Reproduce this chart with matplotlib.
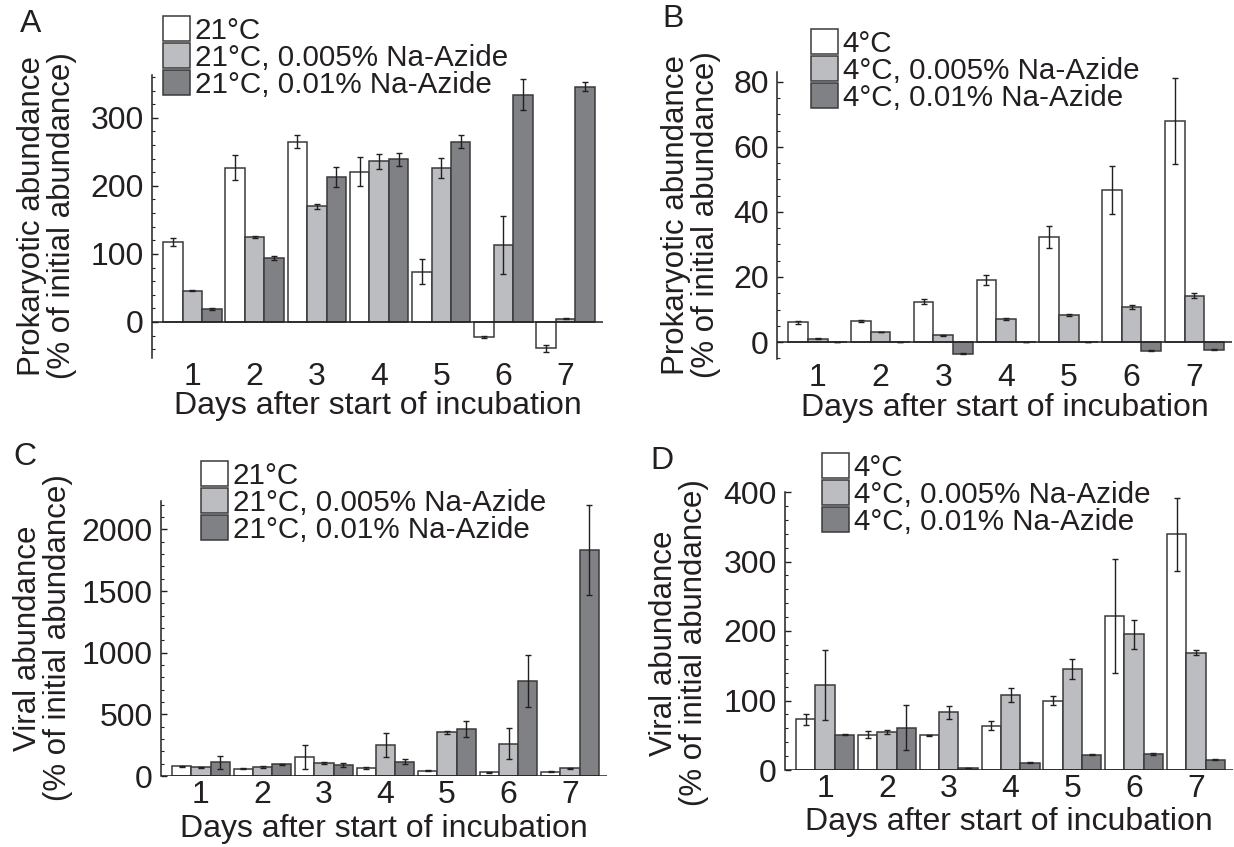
"""Prokaryotic and viral abundance during incubation, with and without Na-azide."""

import matplotlib
matplotlib.use("Agg")
import matplotlib.pyplot as plt
from matplotlib.ticker import MultipleLocator
import numpy as np

plt.rcParams["font.family"] = ["Liberation Sans", "DejaVu Sans"]
plt.rcParams["font.size"] = 23

TXT = "#231f20"
COLORS = ["#ffffff", "#bcbdc1", "#808185"]
EDGE = "#3a3a3c"

days = [1, 2, 3, 4, 5, 6, 7]
labels_21 = ["21°C", "21°C, 0.005% Na-Azide", "21°C, 0.01% Na-Azide"]
labels_4 = ["4°C", "4°C, 0.005% Na-Azide", "4°C, 0.01% Na-Azide"]

# A: prokaryotes, 21 °C
a_ctrl = [117, 227, 265, 221, 74, -22, -39]
a_ctrl_err = [6, 18, 10, 21, 18, 2, 5]
a_low = [46, 125, 170, 236, 226, 113, 5]
a_low_err = [1, 2, 4, 11, 15, 42, 1]
a_high = [19, 94, 213, 239, 265, 334, 346]
a_high_err = [1, 3, 15, 10, 10, 23, 7]

# B: prokaryotes, 4 °C
b_ctrl = [6.1, 6.6, 12.4, 19.0, 32.4, 46.7, 68.0]
b_ctrl_err = [0.5, 0.3, 0.8, 1.5, 3.4, 7.4, 13.2]
b_low = [1.0, 3.1, 2.1, 7.1, 8.3, 10.8, 14.3]
b_low_err = [0.1, 0.1, 0.2, 0.3, 0.4, 0.5, 0.9]
b_high = [0, 0, -3.6, 0, 0, -2.6, -2.3]
b_high_err = [0, 0, 0.2, 0, 0, 0.2, 0.2]

# C: viruses, 21 °C
c_ctrl = [78, 57, 151, 65, 43, 30, 35]
c_ctrl_err = [6, 4, 97, 5, 6, 6, 4]
c_low = [70, 70, 105, 251, 354, 262, 62]
c_low_err = [6, 8, 5, 100, 13, 127, 6]
c_high = [111, 95, 89, 116, 384, 770, 1835]
c_high_err = [55, 6, 15, 20, 65, 212, 365]

# D: viruses, 4 °C
d_ctrl = [73, 51, 50, 64, 100, 221, 339]
d_ctrl_err = [8, 5, 1, 7, 7, 82, 53]
d_low = [122, 55, 83, 108, 145, 195, 169]
d_low_err = [50, 3, 9, 10, 14, 21, 3]
d_high = [51, 61, 3, 10.5, 22, 23, 15]
d_high_err = [1, 32, 0.5, 0.5, 1, 1, 0.5]

W, H = 1234, 847


def px_rect(left, top, right, bottom):
    return [left / W, 1 - bottom / H, (right - left) / W, (bottom - top) / H]


def panel(fig, rect, series, errs, labels, ylim, major, minor,
          ylabel, letter, letter_xy, ylabel_xy, legend_xy, xlabel_pad=-1):
    ax = fig.add_axes(rect)
    x = np.arange(len(days)) + 1
    width = 0.313
    handles = []
    for k, (vals, err, col) in enumerate(zip(series, errs, COLORS)):
        pos = x + (k - 1) * width
        b = ax.bar(pos, vals, width, color=col, edgecolor=EDGE, linewidth=1.1,
                   zorder=2)
        ax.errorbar(pos, vals, yerr=err, fmt="none", ecolor=TXT, elinewidth=1,
                    capsize=2.5, capthick=1, zorder=3)
        handles.append(b)

    ax.axhline(0, color=TXT, linewidth=1.1, zorder=4)
    ax.set_xlim(0.35, 7.6)
    ax.set_ylim(*ylim)
    ax.yaxis.set_major_locator(MultipleLocator(major))
    ax.yaxis.set_minor_locator(MultipleLocator(minor))
    ax.set_yticks([t for t in ax.get_yticks() if t >= 0 and t <= ylim[1]])
    ax.set_xticks(x)
    ax.set_xticklabels([str(d) for d in days])
    ax.tick_params(axis="x", length=0, pad=3, colors=TXT)
    ax.tick_params(axis="y", which="major", direction="in", length=4,
                   width=1, pad=6, colors=TXT)
    ax.tick_params(axis="y", which="minor", direction="in", length=2.5,
                   width=0.8, colors=TXT)
    for s in ("top", "right", "bottom"):
        ax.spines[s].set_visible(False)
    ax.spines["left"].set_color(TXT)
    ax.spines["left"].set_linewidth(1.1)
    ax.set_xlabel("Days after start of incubation", labelpad=xlabel_pad,
                  color=TXT)

    fig.text(*ylabel_xy, ylabel, rotation=90, ha="center", va="center",
             linespacing=1.02, fontsize=22.5, color=TXT)
    fig.text(*letter_xy, letter, ha="center", va="center", color=TXT)
    ax.legend(handles, labels, loc="upper left", bbox_to_anchor=legend_xy,
              bbox_transform=fig.transFigure, frameon=False, borderpad=0,
              borderaxespad=0, fontsize=21.3, handlelength=0.92,
              handleheight=0.92, handletextpad=0.15, labelspacing=-0.05,
              labelcolor=TXT)
    return ax


fig = plt.figure(figsize=(12.34, 8.47), dpi=100)

prok = "Prokaryotic abundance\n(% of initial abundance)"
vir = "Viral abundance\n(% of initial abundance)"

panel(fig, px_rect(152, 75, 603, 358),
      [a_ctrl, a_low, a_high], [a_ctrl_err, a_low_err, a_high_err], labels_21,
      (-53, 363), 100, 20, prok, "A", (31 / W, 1 - 24 / H),
      (47 / W, 1 - 216 / H), (163 / W, 1 - 16 / H))
panel(fig, px_rect(777, 72, 1232, 359),
      [b_ctrl, b_low, b_high], [b_ctrl_err, b_low_err, b_high_err], labels_4,
      (-5.2, 83), 20, 5, prok, "B", (673 / W, 1 - 19 / H),
      (691 / W, 1 - 215 / H), (811 / W, 1 - 29 / H), xlabel_pad=0)
panel(fig, px_rect(161, 501, 607, 776),
      [c_ctrl, c_low, c_high], [c_ctrl_err, c_low_err, c_high_err], labels_21,
      (0, 2230), 500, 100, vir, "C", (25 / W, 1 - 457 / H),
      (43 / W, 1 - 638 / H), (201 / W, 1 - 461 / H), xlabel_pad=3)
panel(fig, px_rect(785, 492, 1233, 770),
      [d_ctrl, d_low, d_high], [d_ctrl_err, d_low_err, d_high_err], labels_4,
      (0, 400), 100, 20, vir, "D", (662 / W, 1 - 461 / H),
      (679 / W, 1 - 643 / H), (822 / W, 1 - 453 / H), xlabel_pad=2)

fig.savefig("out.png", dpi=100)
